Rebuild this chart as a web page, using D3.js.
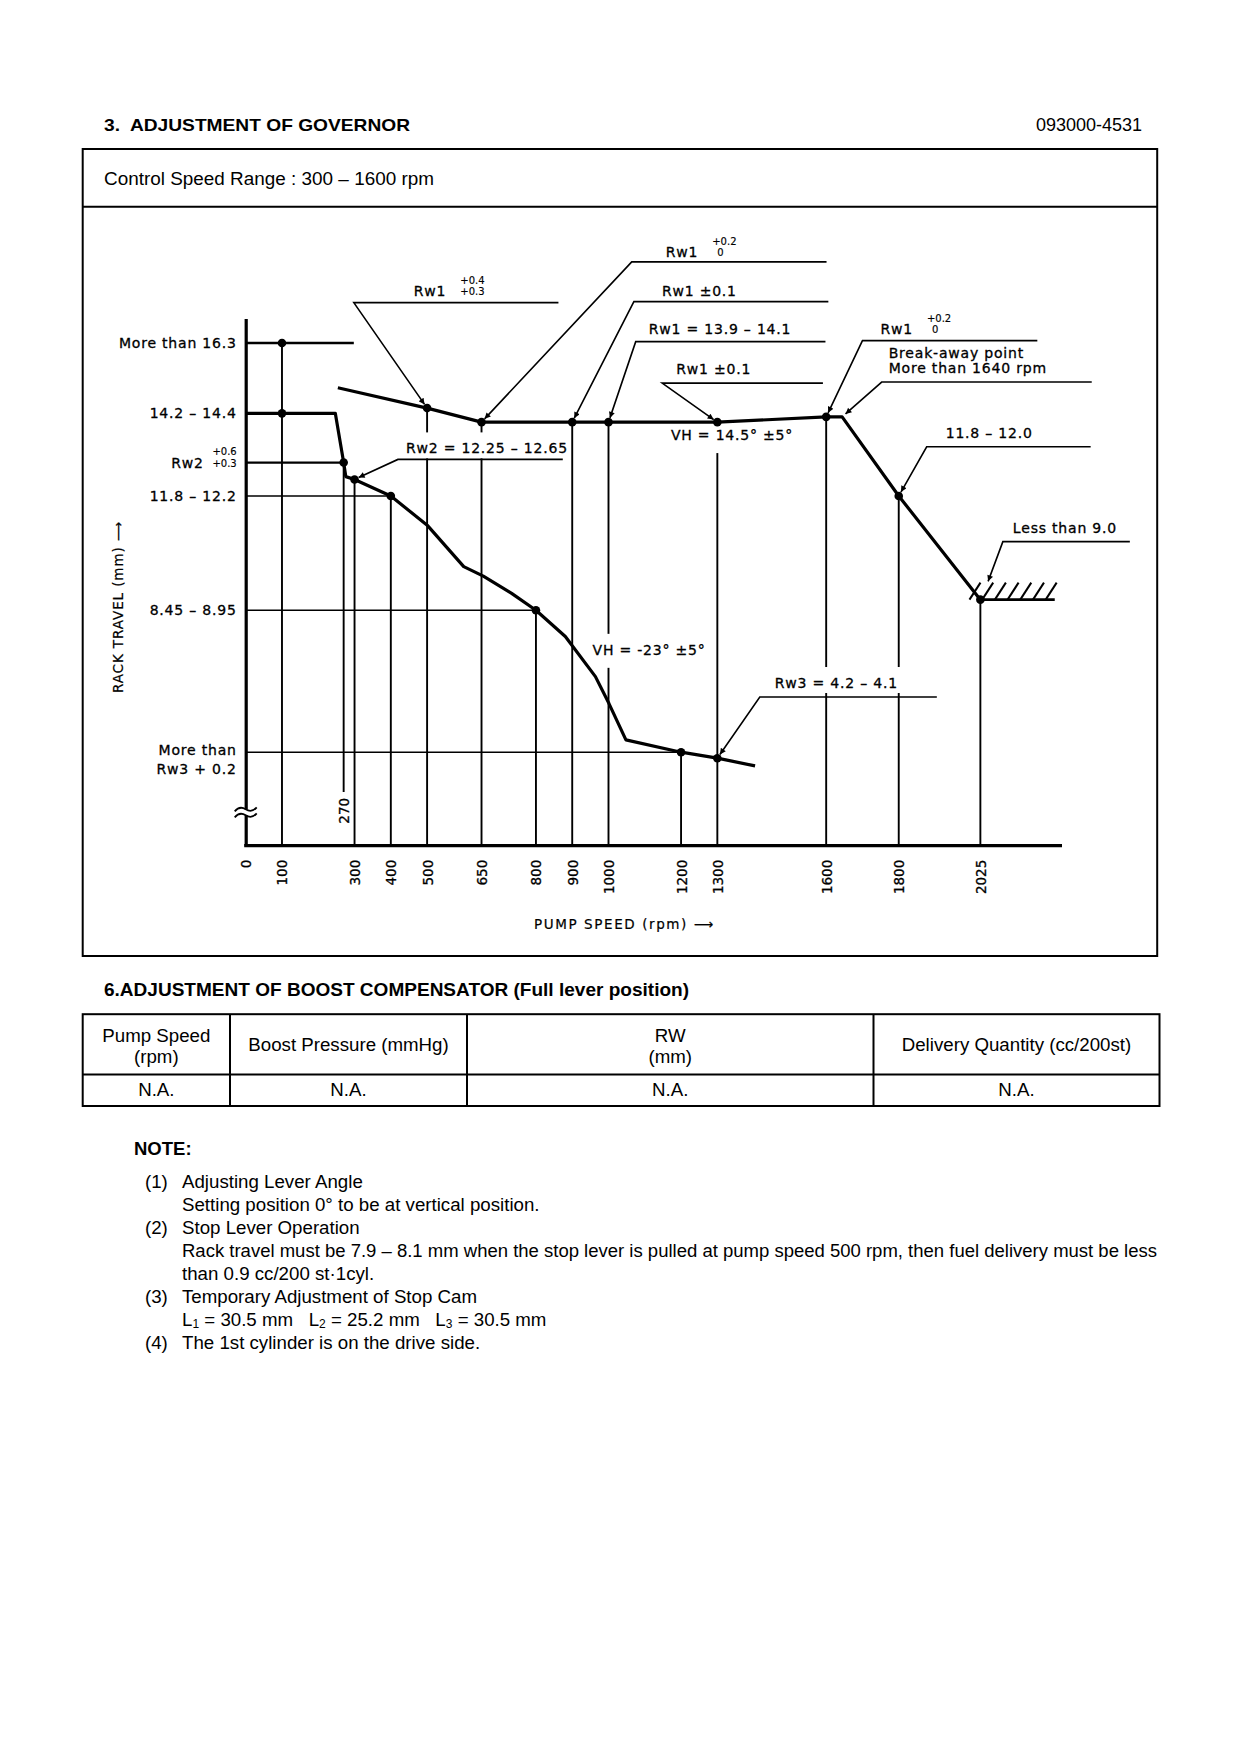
<!DOCTYPE html>
<html><head><meta charset="utf-8">
<script src="https://cdn.jsdelivr.net/npm/d3@7"></script>
<style>body{margin:0;background:#fff} svg{display:block}</style>
</head><body>
<svg id="page" width="1240" height="1754" xmlns="http://www.w3.org/2000/svg"></svg>
<script>
// ---------------- DATA ----------------
const rpmTicks = [0, 100, 300, 400, 500, 650, 800, 900, 1000, 1200, 1300, 1600, 1800, 2025];
const extraTick = 270;

// full-load / governor curve (lower curve)
const fullLoadRpm = [0, 100, 247, 270, 276, 300, 400, 502, 601, 655, 733, 800, 881, 964, 1001, 1048, 1200, 1300, 1404];
const fullLoadMm  = [14.3, 14.3, 14.3, 12.9, 12.5, 12.42, 11.95, 11.1, 9.94, 9.67, 9.18, 8.7, 7.95, 6.81, 6.05, 5.01, 4.66, 4.49, 4.27];

// upper curve (Rw1 line and high-speed cut)
const upperRpm = [254, 500, 650, 900, 1000, 1300, 1600, 1644, 1800, 2025];
const upperMm  = [15.03, 14.45, 14.05, 14.05, 14.05, 14.05, 14.2, 14.2, 11.95, 9.0];

// measuring points
const lowerDotRpm = [100, 100, 270, 300, 400, 800, 1200, 1300];
const lowerDotMm  = [16.3, 14.3, 12.9, 12.42, 11.95, 8.7, 4.66, 4.49];
const upperDotRpm = [500, 650, 900, 1000, 1300, 1600, 1800, 2025];
const upperDotMm  = [14.45, 14.05, 14.05, 14.05, 14.05, 14.2, 11.95, 9.0];

// y-axis reference levels (mm) and the speed where each reference line ends
const refMm   = [16.3, 12.9, 11.95, 8.7, 4.66];
const refToRpm = [298, 270, 400, 800, 1200];
const refWidth = [2.5, 2.2, 1.5, 1.5, 1.5];

// drop lines: speed, starting level, ending level
const dropRpm  = [100, 270, 300, 400, 500, 650, 800, 900, 1000, 1200, 1300, 1600, 1800, 2025];
const dropFrom = [16.3, 12.9, 12.42, 11.95, 14.45, 14.05, 8.7, 14.05, 14.05, 4.66, 14.05, 14.2, 11.95, 9.0];
const dropTo   = [2, 3.53, 2, 2, 2, 2, 2, 2, 2, 2, 2, 2, 2, 2];

// y-axis labels
const yLabels = [
  {mm: 16.3, lines: ["More than 16.3"]},
  {mm: 14.3, lines: ["14.2 – 14.4"]},
  {mm: 12.9, lines: ["Rw2"], sup: ["+0.6", "+0.3"]},
  {mm: 11.95, lines: ["11.8 – 12.2"]},
  {mm: 8.7, lines: ["8.45 – 8.95"]},
  {mm: 4.66, lines: ["More than", "Rw3 + 0.2"]}
];

// callouts: label, elbow (rpm, mm), end of underline (rpm), arrow target (rpm, mm)
const callouts = [
  {lines: ["Rw1"], sup: ["+0.4", "+0.3"], elbow: [298, 17.45], endRpm: 862, target: [500, 14.45], dx: 60, dy: -7},
  {lines: ["Rw1"], sup: ["+0.2", "0"], elbow: [1064, 18.61], endRpm: 1601, target: [650, 14.05], dx: 34, dy: -5},
  {lines: ["Rw1 ±0.1"], elbow: [1070, 17.48], endRpm: 1606, target: [900, 14.05], dx: 28, dy: -6},
  {lines: ["Rw1 = 13.9 – 14.1"], elbow: [1075, 16.34], endRpm: 1598, target: [1000, 14.05], dx: 13, dy: -8},
  {lines: ["Rw1 ±0.1"], elbow: [1148, 15.16], endRpm: 1591, target: [1300, 14.05], dx: 14, dy: -9},
  {lines: ["Rw1"], sup: ["+0.2", "0"], elbow: [1700, 16.37], endRpm: 2182, target: [1600, 14.2], dx: 18, dy: -7},
  {lines: ["Break-away point", "More than 1640 rpm"], elbow: [1753, 15.19], endRpm: 2332, target: [1644, 14.2], dx: 7, dy: -24},
  {lines: ["11.8 – 12.0"], elbow: [1877, 13.35], endRpm: 2329, target: [1800, 11.95], dx: 19, dy: -9},
  {lines: ["Less than 9.0"], elbow: [2087, 10.65], endRpm: 2437, target: [2042, 9.4], dx: 10, dy: -9},
  {lines: ["Rw2 = 12.25 – 12.65"], elbow: [419.6, 12.99], endRpm: 874, target: [300, 12.42], dx: 8, dy: -6, bg: true},
  {lines: ["Rw3 = 4.2 – 4.1"], elbow: [1417, 6.23], endRpm: 1905, target: [1300, 4.49], dx: 15, dy: -9, bg: true}
];
// free labels (left x in rpm, baseline in mm)
const freeLabels = [
  {text: "VH = 14.5° ±5°", rpm: 1172, mm: 13.54},
  {text: "VH = -23° ±5°", rpm: 956, mm: 7.43}
];
// stop-limit hatch (speed range and level)
const hatchFromRpm = 2025, hatchToRpm = 2230, hatchMm = 9.0;
const hatchStarts = [1995, 2030, 2065, 2100, 2135, 2170, 2205];

// boost compensator table
const tableHeaders = [["Pump Speed", "(rpm)"], ["Boost Pressure (mmHg)"], ["RW", "(mm)"], ["Delivery Quantity (cc/200st)"]];
const tableValues = ["N.A.", "N.A.", "N.A.", "N.A."];

// notes
const notes = [
  {num: "(1)", lines: ["Adjusting Lever Angle", "Setting position 0° to be at vertical position."]},
  {num: "(2)", lines: ["Stop Lever Operation", "Rack travel must be 7.9 – 8.1 mm when the stop lever is pulled at pump speed 500 rpm, then fuel delivery must be less", "than 0.9 cc/200 st·1cyl."]},
  {num: "(3)", lines: ["Temporary Adjustment of Stop Cam", "L1 = 30.5 mm   L2 = 25.2 mm   L3 = 30.5 mm"]},
  {num: "(4)", lines: ["The 1st cylinder is on the drive side."]}
];

// ---------------- DRAW ----------------
const DOC = '"Liberation Sans", Arial, sans-serif';
const CH = '"DejaVu Sans", sans-serif';
const svg = d3.select('#page');
svg.append('rect').attr('width', 1240).attr('height', 1754).attr('fill', '#fff');

// header
svg.append('text').attr('x', 104).attr('y', 131).attr('font-family', DOC).attr('font-weight', 'bold')
  .attr('font-size', 17).attr('textLength', 306).attr('lengthAdjust', 'spacingAndGlyphs')
  .style('white-space', 'pre').text('3.  ADJUSTMENT OF GOVERNOR');
svg.append('text').attr('x', 1142).attr('y', 131).attr('text-anchor', 'end').attr('font-family', DOC)
  .attr('font-size', 18).text('093000-4531');

// frame
svg.append('rect').attr('x', 82.7).attr('y', 149).attr('width', 1074.5).attr('height', 807)
  .attr('fill', 'none').attr('stroke', '#000').attr('stroke-width', 2);
svg.append('line').attr('x1', 82.7).attr('x2', 1157.2).attr('y1', 206.7).attr('y2', 206.7).attr('stroke', '#000').attr('stroke-width', 2);
svg.append('text').attr('x', 104).attr('y', 184.5).attr('font-family', DOC).attr('font-size', 17.5)
  .attr('textLength', 330).attr('lengthAdjust', 'spacingAndGlyphs').text('Control Speed Range : 300 – 1600 rpm');

// scales
const x = d3.scaleLinear().domain([0, 2250]).range([245.7, 1062]);
const y = d3.scaleLinear().domain([2, 17]).range([845.7, 318.45]);

const defs = svg.append('defs');
defs.append('marker').attr('id', 'arr').attr('viewBox', '0 0 10 10').attr('refX', 10).attr('refY', 5)
  .attr('markerWidth', 9).attr('markerHeight', 6).attr('markerUnits', 'userSpaceOnUse').attr('orient', 'auto')
  .append('path').attr('d', 'M0,0L10,5L0,10z').attr('fill', '#000');

const gGrid = svg.append('g');
const gBg = svg.append('g');
const gCurve = svg.append('g');
const gAnn = svg.append('g').attr('font-family', CH).attr('font-size', 14).attr('letter-spacing', 0.8)
  .attr('stroke', '#000').attr('stroke-width', 0.3);

// drop lines
dropRpm.forEach((r, i) => {
  gGrid.append('line').attr('x1', x(r)).attr('x2', x(r)).attr('y1', y(dropFrom[i])).attr('y2', y(dropTo[i]))
    .attr('stroke', '#000').attr('stroke-width', 1.9);
});
// reference lines
refMm.forEach((m, i) => {
  gGrid.append('line').attr('x1', x(0)).attr('x2', x(refToRpm[i])).attr('y1', y(m)).attr('y2', y(m))
    .attr('stroke', '#000').attr('stroke-width', refWidth[i]);
});

// axes
const yAxisG = svg.append('g').attr('transform', `translate(${x(0)},0)`)
  .call(d3.axisLeft(y).tickValues([]).tickSizeOuter(0));
yAxisG.select('.domain').attr('stroke-width', 3.2);
const xAxisG = svg.append('g').attr('transform', `translate(0,${y(2)})`)
  .call(d3.axisBottom(x).tickValues(rpmTicks).tickSize(0).tickSizeOuter(0).tickFormat(d3.format('d')));
xAxisG.select('.domain').attr('stroke-width', 3.2).attr('d', `M${x(0) - 1.5},0H${x(2250)}`);
xAxisG.selectAll('.tick text').attr('font-family', CH).attr('font-size', 13.5).attr('fill', '#000')
  .attr('stroke', '#000').attr('stroke-width', 0.3)
  .attr('text-anchor', 'end').attr('dy', null).attr('y', null)
  .attr('transform', 'translate(5,14) rotate(-90)');
// 270 label
svg.append('text').attr('font-family', CH).attr('font-size', 13.5).attr('text-anchor', 'end')
  .attr('stroke', '#000').attr('stroke-width', 0.3)
  .attr('transform', `translate(${x(extraTick) + 5},${y(3.36)}) rotate(-90)`).text(String(extraTick));

// axis break
const by = y(2.95);
svg.append('rect').attr('x', x(0) - 3).attr('y', by - 3).attr('width', 6).attr('height', 6).attr('fill', '#fff');
[-3, 3].forEach(o => {
  svg.append('path').attr('d', `M${x(0) - 11},${by + o + 2} q5,-6 11,-2 t11,-2`).attr('fill', 'none')
    .attr('stroke', '#000').attr('stroke-width', 1.8);
});

// y labels
yLabels.forEach(l => {
  const base = y(l.mm) + 5;
  const offs = l.lines.length === 2 ? [-2, 17] : [0];
  l.lines.forEach((t, j) => {
    const tx = l.sup ? x(0) - 42 : x(0) - 9;
    gAnn.append('text').attr('x', tx).attr('y', base + offs[j]).attr('text-anchor', 'end').text(t);
  });
  if (l.sup) {
    gAnn.append('text').attr('x', x(0) - 9).attr('y', base - 13).attr('text-anchor', 'end').attr('font-size', 10).attr('letter-spacing', 0).attr('stroke-width', 0.15).text(l.sup[0]);
    gAnn.append('text').attr('x', x(0) - 9).attr('y', base - 1).attr('text-anchor', 'end').attr('font-size', 10).attr('letter-spacing', 0).attr('stroke-width', 0.15).text(l.sup[1]);
  }
});

// axis titles
svg.append('text').attr('font-family', CH).attr('font-size', 13.5).attr('text-anchor', 'middle')
  .attr('stroke', '#000').attr('stroke-width', 0.2)
  .attr('transform', `translate(123,607) rotate(-90)`).attr('letter-spacing', 0.9).text('RACK TRAVEL (mm) ⟶');
svg.append('text').attr('font-family', CH).attr('font-size', 13.5).attr('x', 534).attr('y', 929)
  .attr('stroke', '#000').attr('stroke-width', 0.2).attr('letter-spacing', 1.6).text('PUMP SPEED (rpm) ⟶');

// callouts
function addBg(sel, padT, padB) {
  const b = sel.node().getBBox();
  gBg.append('rect').attr('x', b.x - 3).attr('y', b.y - padT).attr('width', b.width + 6)
    .attr('height', b.height + padT + padB).attr('fill', '#fff');
}
callouts.forEach(c => {
  const ex = x(c.elbow[0]), ey = y(c.elbow[1]);
  const tx0 = x(c.target[0]), ty0 = y(c.target[1]);
  const ang = Math.atan2(ty0 - ey, tx0 - ex);
  const tx = tx0 - 4.5 * Math.cos(ang), ty = ty0 - 4.5 * Math.sin(ang);
  gAnn.append('path').attr('d', `M${x(c.endRpm)},${ey}L${ex},${ey}L${tx},${ty}`)
    .attr('fill', 'none').attr('stroke', '#000').attr('stroke-width', 1.6).attr('marker-end', 'url(#arr)');
  c.lines.forEach((t, j) => {
    const t1 = gAnn.append('text').attr('x', ex + c.dx).attr('y', ey + c.dy + j * 15).text(t);
    if (c.bg) addBg(t1, 8, 2);
    if (c.sup && j === 0) {
      const w = t1.node().getComputedTextLength();
      const sx = ex + c.dx + w + 14;
      gAnn.append('text').attr('x', sx).attr('y', ey + c.dy - 12).attr('font-size', 10).attr('letter-spacing', 0).attr('stroke-width', 0.15).text(c.sup[0]);
      gAnn.append('text').attr('x', sx + (c.sup[1].length < 3 ? 5 : 0)).attr('y', ey + c.dy - 1).attr('font-size', 10).attr('letter-spacing', 0).attr('stroke-width', 0.15).text(c.sup[1]);
    }
  });
});
freeLabels.forEach(f => {
  const t = gAnn.append('text').attr('x', x(f.rpm)).attr('y', y(f.mm)).text(f.text);
  addBg(t, 8, 10);
});

// curves
const line = d3.line().x(d => x(d[0])).y(d => y(d[1]));
gCurve.append('path').datum(fullLoadRpm.map((r, i) => [r, fullLoadMm[i]])).attr('d', line)
  .attr('fill', 'none').attr('stroke', '#000').attr('stroke-width', 3.2).attr('stroke-linejoin', 'round');
gCurve.append('path').datum(upperRpm.map((r, i) => [r, upperMm[i]])).attr('d', line)
  .attr('fill', 'none').attr('stroke', '#000').attr('stroke-width', 3.2).attr('stroke-linejoin', 'round');
// points
const allDotMm = lowerDotMm.concat(upperDotMm);
lowerDotRpm.concat(upperDotRpm).forEach((r, i) => {
  gCurve.append('circle').attr('cx', x(r)).attr('cy', y(allDotMm[i])).attr('r', 4.3).attr('fill', '#000');
});
// hatch
gCurve.append('line').attr('x1', x(hatchFromRpm)).attr('x2', x(hatchToRpm)).attr('y1', y(hatchMm)).attr('y2', y(hatchMm))
  .attr('stroke', '#000').attr('stroke-width', 2.6);
hatchStarts.forEach(r => {
  gCurve.append('line').attr('x1', x(r)).attr('y1', y(hatchMm)).attr('x2', x(r) + 11).attr('y2', y(hatchMm) - 17)
    .attr('stroke', '#000').attr('stroke-width', 2);
});

// ---------- section 6 ----------
svg.append('text').attr('x', 104).attr('y', 996).attr('font-family', DOC).attr('font-weight', 'bold')
  .attr('font-size', 17.5).attr('textLength', 585).attr('lengthAdjust', 'spacingAndGlyphs')
  .text('6.ADJUSTMENT OF BOOST COMPENSATOR (Full lever position)');
const colX = [82.7, 230, 467, 873.5, 1159.5];
const tTop = 1014.2, tMid = 1074.5, tBot = 1106;
svg.append('rect').attr('x', colX[0]).attr('y', tTop).attr('width', colX[4] - colX[0]).attr('height', tBot - tTop)
  .attr('fill', 'none').attr('stroke', '#000').attr('stroke-width', 2);
svg.append('line').attr('x1', colX[0]).attr('x2', colX[4]).attr('y1', tMid).attr('y2', tMid).attr('stroke', '#000').attr('stroke-width', 2);
colX.slice(1, 4).forEach(cx => svg.append('line').attr('x1', cx).attr('x2', cx).attr('y1', tTop).attr('y2', tBot).attr('stroke', '#000').attr('stroke-width', 2));
tableHeaders.forEach((h, i) => {
  const cx = (colX[i] + colX[i + 1]) / 2;
  const ys = h.length === 2 ? [1042, 1063] : [1051];
  h.forEach((t, j) => svg.append('text').attr('x', cx).attr('y', ys[j]).attr('text-anchor', 'middle')
    .attr('font-family', DOC).attr('font-size', 18.7).text(t));
  svg.append('text').attr('x', cx).attr('y', 1096).attr('text-anchor', 'middle').attr('font-family', DOC)
    .attr('font-size', 18.7).text(tableValues[i]);
});

// ---------- notes ----------
svg.append('text').attr('x', 134).attr('y', 1155).attr('font-family', DOC).attr('font-weight', 'bold')
  .attr('font-size', 18.5).text('NOTE:');
let row = 0;
notes.forEach(n => {
  svg.append('text').attr('x', 145).attr('y', 1188 + row * 23).attr('font-family', DOC).attr('font-size', 18.7).text(n.num);
  n.lines.forEach(t => {
    const ty = 1188 + row * 23;
    const te = svg.append('text').attr('x', 182).attr('y', ty).attr('font-family', DOC).attr('font-size', 18.7)
      .style('white-space', 'pre');
    if (t.startsWith('L1')) {
      const parts = t.split(/L(\d)/);
      for (let k = 1; k < parts.length; k += 2) {
        te.append('tspan').text('L');
        te.append('tspan').attr('font-size', 12).attr('dy', 2).text(parts[k]);
        te.append('tspan').attr('dy', -2).text(parts[k + 1]);
      }
    } else {
      te.text(t);
    }
    if (t.length > 100) te.attr('textLength', 975).attr('lengthAdjust', 'spacingAndGlyphs');
    row++;
  });
});
</script></body></html>
